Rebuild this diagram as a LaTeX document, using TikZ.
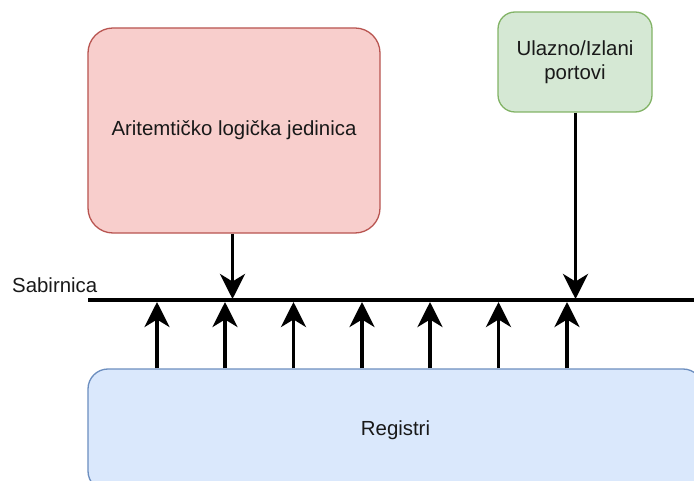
\documentclass[tikz,border=0pt]{standalone}
\usepackage{fontspec}
\setmainfont{Liberation Sans}
\usetikzlibrary{arrows.meta}
\definecolor{redfill}{HTML}{F8CECC}
\definecolor{redline}{HTML}{B85450}
\definecolor{greenfill}{HTML}{D5E8D4}
\definecolor{greenline}{HTML}{82B366}
\definecolor{bluefill}{HTML}{DAE8FC}
\definecolor{blueline}{HTML}{6C8EBF}
\tikzset{
  box/.style={rectangle, line width=1.3bp, align=center, inner sep=0pt,
    font=\fontsize{20.4bp}{23.5bp}\selectfont, text=black!90},
  bus/.style={line width=3.8bp, black},
  conn/.style={line width=3.8bp, black, -{Stealth[length=25bp, width=25bp, inset=7.5bp]}},
  lbl/.style={font=\fontsize{20.4bp}{23.5bp}\selectfont, text=black!90, inner sep=0pt}
}
\begin{document}
\begin{tikzpicture}[x=1bp, y=-1bp]
\useasboundingbox (0,0) rectangle (694,481);
\clip (0,0) rectangle (694,481);
% boxes
\node[box, fill=redfill, draw=redline, rounded corners=25bp,
      minimum width=292bp, minimum height=205bp] (alu) at (234,130.5)
      {Aritemtičko logička jedinica};
\node[box, fill=greenfill, draw=greenline, rounded corners=17bp,
      minimum width=154bp, minimum height=100bp] (io) at (575,62)
      {Ulazno/Izlani\\portovi};
\node[box, fill=bluefill, draw=blueline, rounded corners=20bp,
      minimum width=615bp, minimum height=122bp] (reg) at (395.5,430)
      {Registri};
% bus
\coordinate (busL) at (88,300);
\coordinate (busR) at (700,300);
\draw[bus] (busL) -- (busR);
\node[lbl, anchor=base west] (sab) at (12,292) {Sabirnica};
% arrows into bus from above
\coordinate (d1) at (232.5,299);
\coordinate (d2) at (575.5,299);
\draw[conn] (d1 |- alu.south) -- (d1);
\draw[conn] (d2 |- io.south) -- (d2);
% arrows from registers up to bus
\foreach \i/\x in {1/157,2/225,3/293.5,4/362,5/430,6/498.5,7/567}{
  \coordinate (u\i) at (\x,302);
  \draw[conn] (u\i |- reg.north) -- (u\i);
}
\end{tikzpicture}
\end{document}
